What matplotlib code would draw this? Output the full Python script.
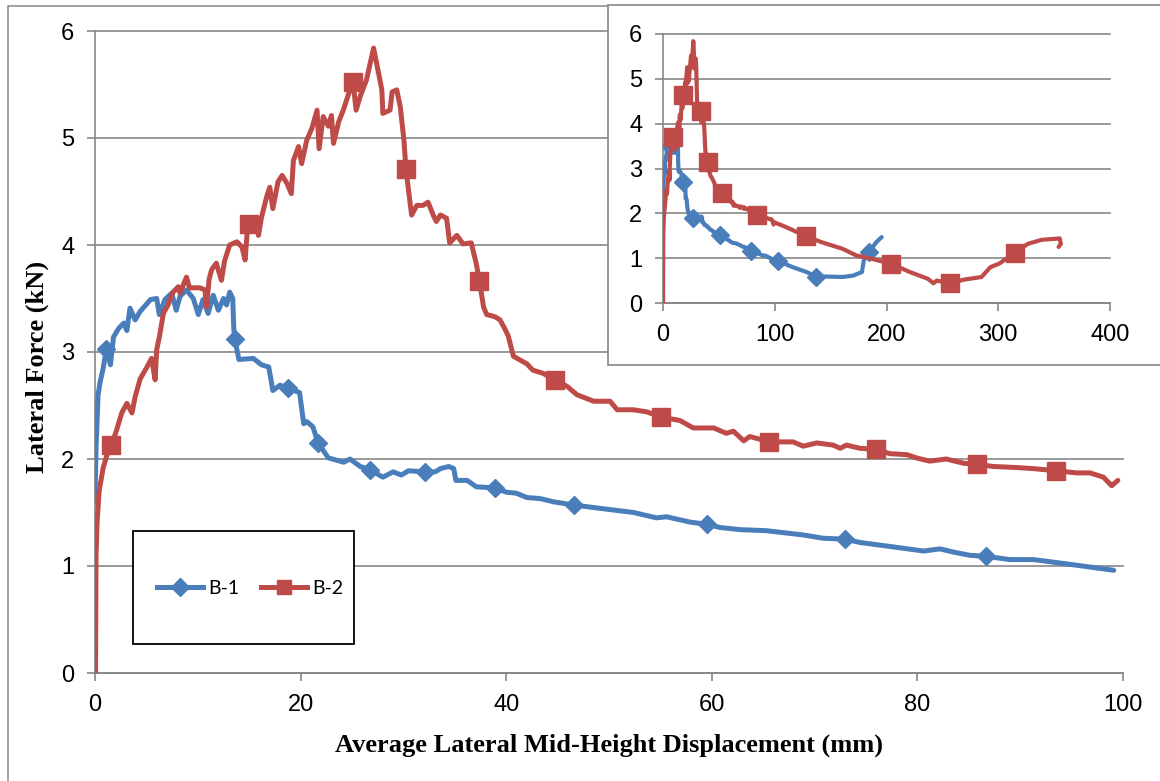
import numpy as np
import matplotlib
matplotlib.use("Agg")
import matplotlib.pyplot as plt
from matplotlib.patches import Rectangle
from matplotlib.lines import Line2D

# ---------------------------------------------------------------------------
# Measured lateral force vs. mid-height displacement
# ---------------------------------------------------------------------------
# Specimen B-1, 0-100 mm
b1_disp = [0.0, 0.1, 0.3, 0.5, 0.8, 1.1, 1.5, 1.8, 2.3, 2.8, 3.1, 3.4, 3.9, 4.4,
           5.4, 6.0, 6.26, 6.8, 7.46, 7.9, 8.27, 8.9, 9.56, 10.05, 10.5, 11.0,
           11.5, 12.0, 12.5, 12.8, 13.1, 13.4, 13.5, 13.6, 14.0, 15.4, 16.2,
           16.9, 17.3, 18.0, 18.8, 19.9, 20.3, 20.6, 21.2, 21.7, 22.7, 24.2,
           24.8, 25.8, 26.75, 28.0, 29.0, 29.8, 30.5, 32.1, 33.1, 33.6, 34.4,
           34.9, 35.1, 36.2, 37.1, 38.9, 40.0, 41.0, 42.0, 43.3, 44.6, 46.6,
           48.2, 50.7, 52.4, 54.6, 55.6, 57.9, 59.5, 60.8, 62.7, 65.3, 68.9,
           70.8, 73.0, 74.4, 78.3, 80.6, 82.2, 83.5, 85.1, 86.7, 89.0, 91.3,
           94.5, 99.1]
b1_force = [1.60, 2.10, 2.60, 2.72, 2.85, 3.03, 2.88, 3.14, 3.22, 3.27, 3.20, 3.41,
            3.30, 3.38, 3.49, 3.50, 3.35, 3.49, 3.55, 3.39, 3.52, 3.58, 3.50, 3.35,
            3.49, 3.36, 3.53, 3.39, 3.50, 3.44, 3.56, 3.50, 3.22, 3.12, 2.93, 2.94,
            2.88, 2.86, 2.64, 2.69, 2.66, 2.62, 2.33, 2.35, 2.30, 2.15, 2.01, 1.97,
            2.00, 1.93, 1.90, 1.83, 1.88, 1.85, 1.89, 1.88, 1.88, 1.91, 1.93, 1.91,
            1.80, 1.80, 1.74, 1.73, 1.69, 1.68, 1.64, 1.63, 1.60, 1.57, 1.55, 1.52,
            1.50, 1.45, 1.46, 1.41, 1.39, 1.36, 1.34, 1.33, 1.29, 1.26, 1.25, 1.22,
            1.17, 1.14, 1.16, 1.13, 1.10, 1.09, 1.06, 1.06, 1.02, 0.96]
# Specimen B-1, beyond 100 mm
b1_tail_disp = [102.5, 116.0, 128.6, 137.0, 146.0, 160.6, 170.0, 178.0, 179.7,
                184.5, 191.0, 195.7]
b1_tail_force = [0.94, 0.80, 0.69, 0.59, 0.59, 0.58, 0.61, 0.69, 0.95, 1.14,
                 1.36, 1.47]

# Specimen B-2, 0-100 mm
b2_disp = [0.05, 0.08, 0.1, 0.2, 0.4, 0.8, 1.2, 1.6, 2.1, 2.6, 3.1, 3.6, 3.9, 4.4,
           5.0, 5.5, 5.85, 6.0, 6.3, 6.65, 7.1, 7.6, 8.1, 8.27, 8.9, 9.2, 10.2,
           10.7, 10.85, 11.1, 11.35, 11.8, 12.3, 12.6, 13.1, 13.8, 14.3, 14.6,
           14.8, 15.0, 15.7, 15.9, 16.2, 16.7, 17.0, 17.3, 17.8, 18.2, 18.65,
           19.1, 19.3, 19.8, 20.1, 20.6, 21.1, 21.6, 21.8, 22.2, 22.7, 23.0,
           23.2, 23.7, 24.15, 24.8, 25.1, 25.4, 25.8, 26.4, 27.1, 27.6, 27.9,
           28.0, 28.7, 28.9, 29.35, 29.7, 30.05, 30.25, 30.5, 30.8, 31.3, 31.9,
           32.4, 32.9, 33.2, 33.6, 34.2, 34.5, 35.2, 35.8, 36.6, 37.1, 37.4,
           37.8, 38.1, 38.9, 39.4, 39.9, 40.2, 40.7, 42.0, 42.6, 43.6, 44.7,
           45.9, 46.9, 48.5, 50.1, 50.8, 52.4, 53.7, 55.1, 56.9, 58.2, 60.2,
           61.4, 62.1, 63.1, 63.7, 65.6, 67.9, 68.9, 70.2, 71.8, 72.5, 73.1,
           74.4, 76.0, 77.3, 79.0, 79.9, 81.2, 82.8, 84.5, 85.8, 87.4, 89.7,
           91.3, 93.5, 95.5, 96.8, 98.1, 98.9, 99.5]
b2_force = [0.00, 0.60, 1.10, 1.40, 1.70, 1.92, 2.05, 2.13, 2.27, 2.43, 2.52, 2.43,
            2.58, 2.75, 2.85, 2.94, 2.74, 3.02, 3.16, 3.36, 3.44, 3.56, 3.61, 3.55,
            3.70, 3.60, 3.60, 3.58, 3.42, 3.68, 3.77, 3.83, 3.67, 3.85, 4.00, 4.03,
            3.98, 3.86, 4.11, 4.20, 4.16, 4.09, 4.26, 4.45, 4.54, 4.34, 4.59, 4.65,
            4.58, 4.48, 4.79, 4.92, 4.76, 4.98, 5.09, 5.26, 4.90, 5.20, 5.11, 5.21,
            4.95, 5.15, 5.26, 5.45, 5.52, 5.26, 5.39, 5.54, 5.84, 5.60, 5.45, 5.23,
            5.26, 5.43, 5.45, 5.29, 4.98, 4.71, 4.51, 4.28, 4.37, 4.37, 4.40, 4.28,
            4.22, 4.28, 4.25, 4.02, 4.09, 4.01, 4.02, 3.82, 3.66, 3.42, 3.35, 3.33,
            3.30, 3.21, 3.15, 2.96, 2.89, 2.83, 2.80, 2.74, 2.68, 2.60, 2.54, 2.54,
            2.46, 2.46, 2.44, 2.39, 2.36, 2.29, 2.29, 2.24, 2.26, 2.17, 2.21, 2.16,
            2.16, 2.12, 2.15, 2.13, 2.10, 2.13, 2.10, 2.09, 2.05, 2.04, 2.01, 1.98,
            2.00, 1.96, 1.95, 1.93, 1.92, 1.91, 1.89, 1.87, 1.87, 1.83, 1.75, 1.80]
# Specimen B-2, beyond 100 mm
b2_tail_disp = [109.5, 128.0, 141.4, 160.6, 173.0, 186.0, 203.6, 221.0, 237.0,
                242.0, 245.0, 257.0, 269.0, 285.0, 293.0, 301.0, 315.0, 326.5,
                339.0, 355.0, 356.0, 354.0]
b2_tail_force = [1.70, 1.49, 1.36, 1.21, 1.06, 0.99, 0.88, 0.69, 0.54, 0.44,
                 0.50, 0.44, 0.52, 0.58, 0.80, 0.88, 1.12, 1.32, 1.41, 1.44,
                 1.32, 1.25]

# Displacements (mm) of the samples that carry a marker symbol
b1_marks_main = [1.1, 13.6, 18.8, 21.7, 26.75, 32.1, 38.9, 46.6, 59.5, 73.0, 86.7]
b2_marks_main = [1.6, 15.0, 25.1, 30.25, 37.4, 44.7, 55.1, 65.6, 76.0, 85.8, 93.5]
b1_marks_inset = [6.0, 18.0, 26.75, 50.7, 78.3, 102.5, 137.0, 184.5]
b2_marks_inset = [8.9, 18.2, 33.6, 40.2, 52.4, 84.5, 128.0, 203.6, 257.0, 315.0]

series_names = ["B-1", "B-2"]
main_xticks = [0, 20, 40, 60, 80, 100]
main_yticks = [0, 1, 2, 3, 4, 5, 6]
inset_xticks = [0, 100, 200, 300, 400]
inset_yticks = [0, 1, 2, 3, 4, 5, 6]
x_title = "Average Lateral Mid-Height Displacement (mm)"
y_title = "Lateral Force (kN)"

# ---------------------------------------------------------------------------
BLUE = "#4A7EBB"
RED = "#BE4B48"
GRID = "#878787"
W, H = 1160, 781


def fx(px):
    return px / W


def fy(py):
    return 1 - py / H


def mark_index(xs, marks):
    xs = np.asarray(xs, dtype=float)
    return [int(np.argmin(np.abs(xs - m))) for m in marks]


fig = plt.figure(figsize=(W / 100, H / 100), dpi=100)

# outer chart-area frame
fig.patches.append(Rectangle((fx(8), fy(820)), fx(1200) - fx(8), (820 - 6) / H,
                             transform=fig.transFigure, fill=False,
                             ec=GRID, lw=1.1, zorder=1))

tick_font = dict(family="Liberation Sans", size=17)


def style_axes(ax, xticks, yticks, xlim, ylim, pad):
    ax.set_xlim(*xlim)
    ax.set_ylim(*ylim)
    ax.set_xticks(xticks)
    ax.set_yticks(yticks)
    ax.set_xticklabels([str(t) for t in xticks], **tick_font)
    ax.set_yticklabels([str(t) for t in yticks], **tick_font)
    for s in ("top", "right"):
        ax.spines[s].set_visible(False)
    for s in ("left", "bottom"):
        ax.spines[s].set_color(GRID)
        ax.spines[s].set_linewidth(1.2)
    ax.tick_params(axis="both", direction="out", length=6, width=1.2,
                   color=GRID, labelcolor="black", pad=pad)
    ax.yaxis.grid(True, color=GRID, lw=1.2)
    ax.set_axisbelow(True)
    for gl in ax.get_ygridlines():
        gl.set_clip_on(False)


# ---------------------------- main chart -----------------------------------
ax = fig.add_axes([fx(95), fy(673), fx(1123) - fx(95), (673 - 31) / H])
ax.set_facecolor("none")
style_axes(ax, main_xticks, main_yticks, (0, 100), (0, 6), pad=9)

line_kw = dict(solid_joinstyle="round", solid_capstyle="round")
ax.plot(b1_disp, b1_force, color=BLUE, lw=3.6, marker="D", ms=9,
        mec=BLUE, mfc=BLUE, markevery=mark_index(b1_disp, b1_marks_main),
        zorder=3, **line_kw)
ax.plot(b2_disp, b2_force, color=RED, lw=3.6, marker="s", ms=13.5,
        mec=RED, mfc=RED, markevery=mark_index(b2_disp, b2_marks_main),
        zorder=4, **line_kw)

fig.text(fx(609), fy(745), x_title, ha="center", va="center",
         family="Liberation Serif", weight="bold", size=19)
fig.text(fx(37), fy(367), y_title, ha="center", va="center", rotation=90,
         family="Liberation Serif", weight="bold", size=19)

# legend box
fig.patches.append(Rectangle((fx(133), fy(644)), fx(354) - fx(133), (644 - 531) / H,
                             transform=fig.transFigure, fc="white", ec="black",
                             lw=1.3, zorder=1))
handles = [Line2D([], [], color=BLUE, lw=3.6, marker="D", ms=9, mfc=BLUE, mec=BLUE),
           Line2D([], [], color=RED, lw=3.6, marker="s", ms=10, mfc=RED, mec=RED)]
fig.legend(handles, series_names, loc="center", bbox_to_anchor=(fx(250), fy(588)),
           ncol=2, frameon=False, handlelength=2.4, handletextpad=0.25,
           columnspacing=1.1, prop=dict(family="Lato", size=14))

# ---------------------------- inset chart ----------------------------------
fig.patches.append(Rectangle((fx(608), fy(365)), fx(1200) - fx(608), (365 - 5) / H,
                             transform=fig.transFigure, fc="white", ec=GRID,
                             lw=1.2, zorder=1))
ins = fig.add_axes([fx(663), fy(303), fx(1110) - fx(663), (303 - 34) / H], zorder=2)
ins.set_facecolor("none")
style_axes(ins, inset_xticks, inset_yticks, (0, 400), (0, 6), pad=9)

b1_all_x = b1_disp + b1_tail_disp
b1_all_y = b1_force + b1_tail_force
b2_all_x = b2_disp + b2_tail_disp
b2_all_y = b2_force + b2_tail_force
ins.plot(b1_all_x, b1_all_y, color=BLUE, lw=3.0, marker="D", ms=9,
         mec=BLUE, mfc=BLUE, markevery=mark_index(b1_all_x, b1_marks_inset),
         zorder=3, **line_kw)
ins.plot(b2_all_x, b2_all_y, color=RED, lw=3.0, marker="s", ms=13.5,
         mec=RED, mfc=RED, markevery=mark_index(b2_all_x, b2_marks_inset),
         zorder=4, **line_kw)

fig.savefig("out.png", dpi=100)
